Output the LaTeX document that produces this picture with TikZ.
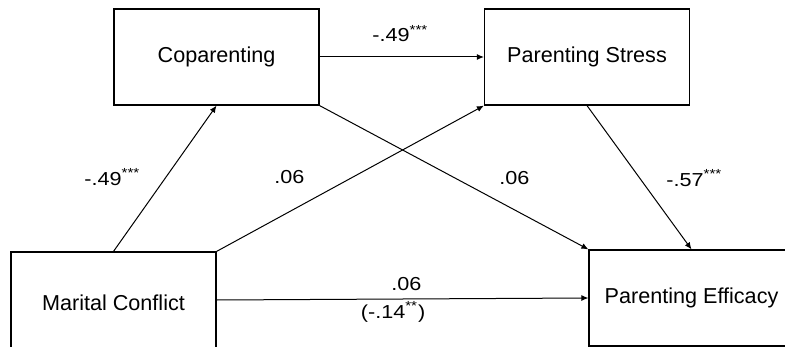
\documentclass[tikz,border=0pt]{standalone}
\usepackage{fontspec}
\setmainfont{Liberation Sans}
\newfontfamily\lblfont[FakeStretch=1.15]{Liberation Sans}
\usetikzlibrary{arrows.meta}
\begin{document}
\begin{tikzpicture}[x=0.5pt,y=-0.5pt,
  box/.style={draw, line width=0.6pt, rectangle, inner sep=0pt,
    minimum width=102.5pt, minimum height=48pt,
    font=\fontsize{10.8}{13}\selectfont},
  conn/.style={line width=0.5pt, -{Latex[length=3.5pt,width=3pt]}},
  lbl/.style={inner sep=0pt, anchor=base west, font=\fontsize{9.4}{11}\lblfont}]
\fill[white] (0,0) rectangle (785,347);
\useasboundingbox (0,0) rectangle (785,347);
\clip (0,0) rectangle (785,347);

\node[box] (cop) at (216.5,57) {Coparenting};
\node[box] (ps)  at (587,57) {Parenting Stress};
\node[box, text height=10pt, text depth=0pt] (mc) at (113.5,300) {Marital Conflict};
\node[box] (pe)  at (691.5,298) {Parenting Efficacy};

\draw[conn] (cop.east) -- (ps.west);
\draw[conn] (mc.north) -- (cop.south);
\draw[conn] (mc.north east) -- (ps.south west);
\draw[conn] (cop.south east) -- (pe.north west);
\draw[conn] (ps.south) -- (pe.north);
\draw[conn] (mc.east) -- (pe.west);

\node[lbl] (l1) at (372,42) {-.49\textsuperscript{***}};
\node[lbl] (l2) at (84,185) {-.49\textsuperscript{***}};
\node[lbl] (l3) at (274,184) {.06};
\node[lbl] (l4) at (499,184.5) {.06};
\node[lbl] (l5) at (666,186) {-.57\textsuperscript{***}};
\node[lbl] (l6) at (391,290) {.06};
\node[lbl] (l7) at (360.5,318) {(-.14\textsuperscript{**})};
\end{tikzpicture}
\end{document}
